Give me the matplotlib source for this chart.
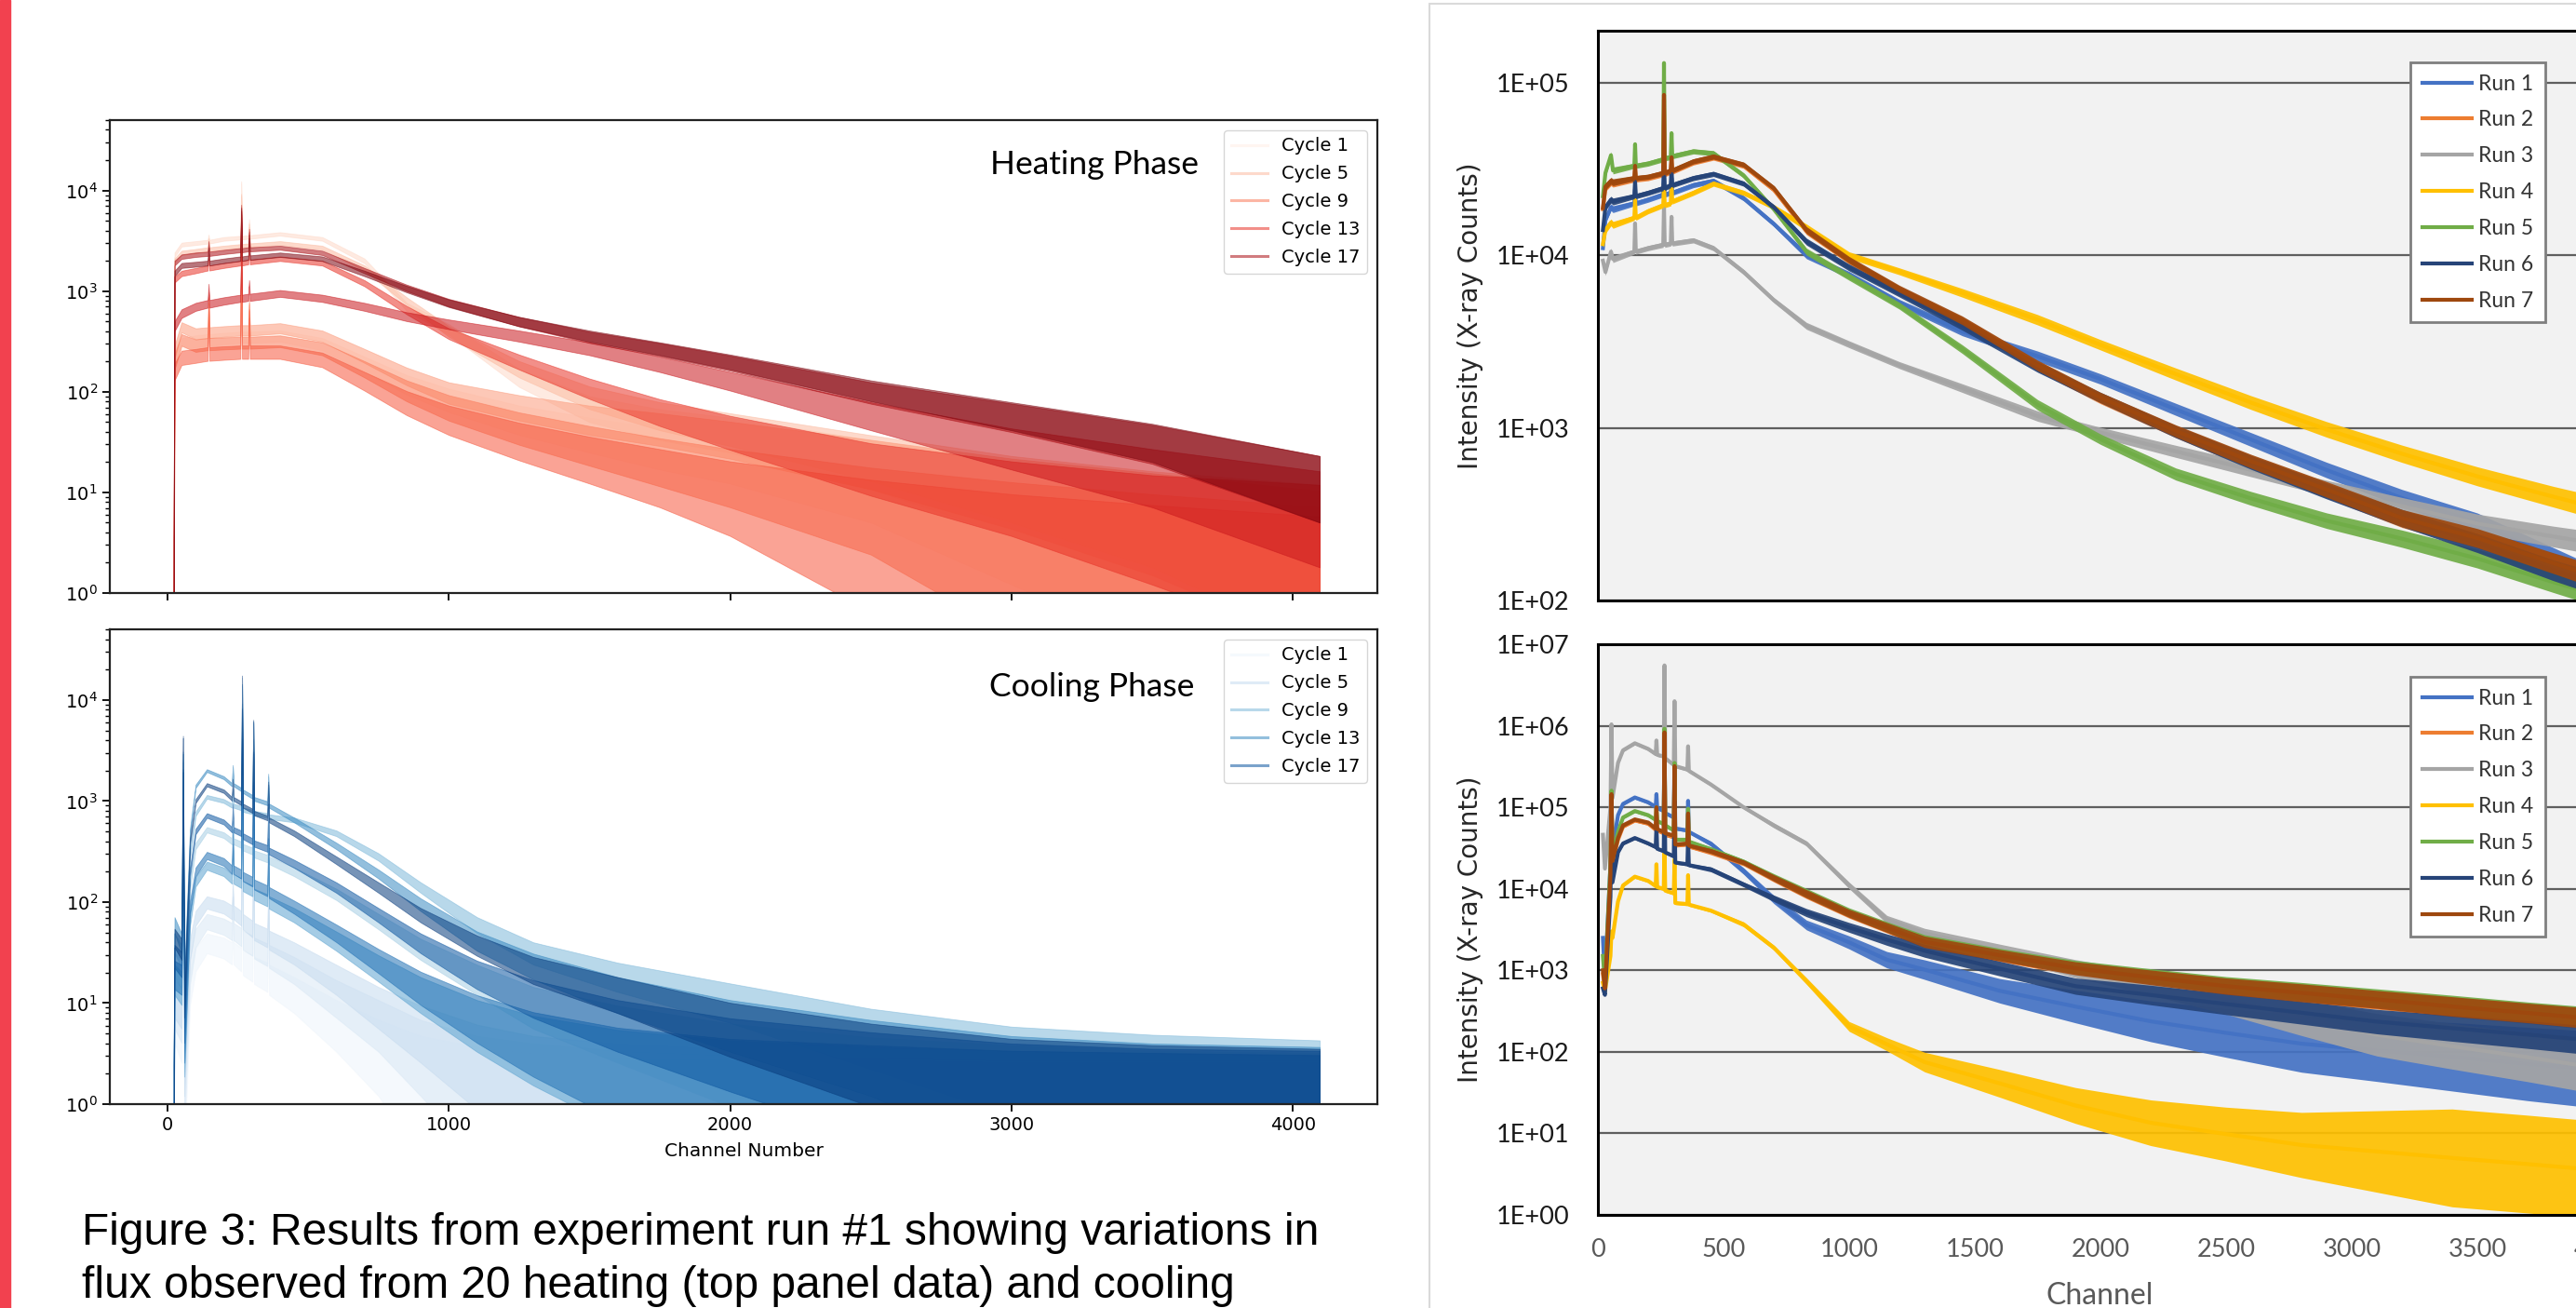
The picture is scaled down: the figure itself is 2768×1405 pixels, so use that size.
import numpy as np
import matplotlib
matplotlib.use("Agg")
import matplotlib.pyplot as plt
from matplotlib.patches import Rectangle
from matplotlib.lines import Line2D
from matplotlib.ticker import FuncFormatter, NullLocator, FixedLocator

W, H, DPI = 2768, 1405, 100

# ------------------------------------------------------------------ data
# Left, top: heating phase spectra (counts per channel), cycles 1,3,...,19
HEAT_CH = [22, 25, 50, 100, 143, 146, 149, 200, 259, 262, 265, 287, 290, 293,
           400, 550, 700, 850, 1000, 1250, 1500, 1750, 2000, 2500, 3000, 3500, 4095]
HEAT_C01 = [1, 220, 300, 320, 330, 700, 330, 340, 350, 2800, 350, 350, 650, 350,
            360, 300, 190, 120, 85, 55, 40, 30, 24, 14, 8, 5.5, 3.5]
HEAT_C03 = [1, 2300, 2900, 3000, 3100, 3500, 3100, 3300, 3400, 12000, 3400, 3450, 5000, 3450,
            3700, 3300, 2000, 700, 420, 140, 70, 50, 40, 22, 12, 8, 5]
HEAT_C05 = [1, 2000, 2400, 2500, 2600, 3200, 2600, 2700, 2800, 9000, 2800, 2850, 4500, 2850,
            3000, 2700, 1700, 800, 400, 170, 90, 60, 45, 25, 14, 9, 6]
HEAT_C07 = [1, 250, 440, 380, 390, 900, 390, 400, 410, 3500, 410, 410, 800, 410,
            430, 360, 230, 145, 100, 72, 55, 45, 36, 22, 13, 8.5, 5]
HEAT_C09 = [1, 200, 330, 290, 300, 800, 300, 305, 310, 3000, 310, 310, 700, 310,
            320, 270, 170, 105, 72, 46, 32, 23, 17, 10, 6.5, 4.5, 3]
HEAT_C11 = [1, 160, 220, 230, 240, 700, 240, 245, 250, 2500, 250, 250, 600, 250,
            250, 210, 130, 80, 55, 35, 24, 17, 12, 7, 4.5, 3.2, 2.2]
HEAT_C13 = [1, 1300, 1500, 1600, 1700, 2300, 1700, 1800, 1900, 6000, 1900, 1950, 3000, 1950,
            2100, 1900, 1200, 650, 380, 200, 110, 65, 42, 20, 12, 8, 6]
HEAT_C15 = [1, 450, 600, 700, 750, 1100, 750, 800, 850, 2500, 850, 870, 1200, 870,
            950, 850, 700, 560, 470, 360, 270, 190, 130, 60, 30, 17, 9]
HEAT_C17 = [1, 1900, 2200, 2300, 2350, 3000, 2350, 2450, 2550, 7000, 2550, 2600, 4000, 2600,
            2700, 2400, 1600, 1080, 770, 500, 350, 265, 195, 100, 58, 33, 14]
HEAT_C19 = [1, 1500, 1800, 1850, 1900, 2600, 1900, 2000, 2100, 6500, 2100, 2150, 3500, 2150,
            2300, 2100, 1500, 1050, 760, 500, 360, 270, 200, 105, 60, 34, 14]

# Left, bottom: cooling phase spectra
COOL_CH = [22, 25, 50, 55, 60, 80, 100, 140, 200, 229, 232, 235, 262, 265, 268, 302, 305, 308,
           355, 358, 361, 450, 600, 750, 900, 1100, 1300, 1600, 2000, 2500, 3000, 3500, 4095]
COOL_C01 = [1, 8, 6, 150, 2.5, 15, 28, 40, 36, 32, 60, 32, 28, 500, 26, 23, 150, 22,
            19, 60, 18, 13, 7, 4, 2.5, 1.8, 1.5, 1.3, 1.2, 1.2, 1.1, 1.1, 1.1]
COOL_C03 = [1, 10, 8, 300, 3, 22, 45, 65, 58, 52, 100, 52, 46, 900, 43, 38, 300, 36,
            31, 100, 30, 22, 12, 7, 4, 2.5, 2, 1.6, 1.4, 1.3, 1.2, 1.2, 1.2]
COOL_C05 = [1, 12, 10, 400, 4, 35, 70, 100, 90, 80, 150, 80, 70, 1500, 65, 55, 500, 52,
            45, 150, 43, 32, 18, 10, 6, 3.5, 2.5, 2, 1.7, 1.5, 1.4, 1.3, 1.3]
COOL_C07 = [1, 25, 20, 1500, 7, 150, 360, 520, 460, 400, 600, 400, 370, 5000, 350, 320, 2000, 300,
            270, 600, 260, 200, 120, 65, 35, 18, 10, 6, 3.6, 2.4, 1.9, 1.6, 1.5]
COOL_C09 = [1, 40, 30, 2500, 10, 300, 750, 1100, 1000, 900, 1300, 900, 850, 9000, 820, 780, 4000, 760,
            720, 1300, 700, 650, 480, 280, 140, 60, 32, 19, 11, 5.5, 3.3, 2.6, 2.2]
COOL_C11 = [1, 18, 15, 800, 5, 70, 160, 230, 200, 170, 350, 170, 155, 3000, 145, 130, 1200, 120,
            105, 300, 100, 75, 42, 23, 13, 7, 4.5, 3, 2.2, 1.8, 1.6, 1.5, 1.4]
COOL_C13 = [1, 60, 40, 3000, 15, 500, 1400, 2000, 1700, 1450, 2200, 1450, 1300, 14000, 1250, 1100, 6000, 1050,
            950, 1800, 900, 650, 360, 190, 95, 42, 24, 13, 7, 4, 2.5, 2.0, 1.8]
COOL_C15 = [1, 20, 18, 1000, 6, 90, 200, 290, 250, 210, 500, 210, 190, 4000, 180, 160, 1500, 150,
            130, 400, 125, 90, 50, 27, 15, 8, 5, 3.2, 2.3, 1.9, 1.6, 1.5, 1.4]
COOL_C17 = [1, 30, 25, 2000, 8, 200, 500, 720, 620, 520, 900, 520, 480, 8000, 450, 400, 3000, 380,
            340, 900, 320, 240, 140, 75, 40, 20, 12, 7, 4.2, 2.8, 2.0, 1.7, 1.6]
COOL_C19 = [1, 45, 35, 4300, 12, 400, 1000, 1450, 1250, 1050, 1600, 1050, 950, 17000, 900, 800, 6200, 760,
            680, 1500, 650, 480, 260, 140, 75, 38, 22, 13, 6.5, 3.6, 2.3, 1.9, 1.7]

CYCLES = [1, 3, 5, 7, 9, 11, 13, 15, 17, 19]
LEGEND_CYCLES = [1, 5, 9, 13, 17]
HEAT_NOISE_K = 2.4      # counting-noise envelope width (in sigma)
COOL_NOISE_K = 1.4

# Right, top: Excel chart, 7 runs
RUN_LABELS = ["Run 1", "Run 2", "Run 3", "Run 4", "Run 5", "Run 6", "Run 7"]
RT_CH = [20, 30, 52, 60, 145, 148, 151, 200, 260, 263, 266, 290, 293, 296, 380, 460, 580, 700,
         830, 1000, 1200, 1450, 1750, 2000, 2300, 2600, 2900, 3200, 3500, 3800, 4095]
RT_RUN1 = [11000, 16000, 19000, 18500, 20000, 24000, 20000, 21000, 22500, 30000, 22500, 23000, 28000, 23000,
           25500, 27000, 21400, 15200, 10000, 7700, 5300, 3620, 2600, 1920, 1280, 855, 570, 392, 283, 177, 110]
RT_RUN2 = [18500, 24500, 26500, 26000, 27500, 32000, 27500, 28000, 29500, 80000, 29500, 30500, 36000, 30500,
           34500, 36800, 33000, 24000, 13800, 9300, 6300, 4150, 2280, 1480, 950, 630, 435, 297, 228, 163, 118]
RT_RUN3 = [9300, 8000, 10500, 9500, 10500, 15300, 10500, 11000, 11500, 19600, 11500, 11700, 16700, 11700,
           12200, 11000, 8000, 5500, 3900, 3050, 2310, 1700, 1170, 940, 731, 571, 448, 352, 279, 235, 200]
RT_RUN4 = [11600, 14000, 15500, 15000, 16500, 21000, 16500, 18000, 19500, 26000, 19500, 20000, 26000, 20500,
           23000, 26000, 23000, 19000, 14500, 10000, 8070, 6060, 4230, 3030, 2050, 1400, 980, 708, 524, 400, 310]
RT_RUN5 = [22000, 30000, 38000, 31000, 33000, 44000, 33000, 34000, 36000, 130000, 36500, 37000, 51000, 37500,
           40000, 39000, 29000, 18500, 10500, 7500, 5100, 2860, 1360, 860, 540, 390, 290, 228, 175, 128, 96]
RT_RUN6 = [14000, 19000, 21000, 20500, 22000, 27000, 22000, 23000, 24500, 33000, 24500, 25500, 32000, 25500,
           28000, 29600, 26000, 19000, 12000, 8500, 6000, 3900, 2250, 1500, 950, 630, 430, 300, 215, 150, 110]
RT_RUN7 = [18800, 25000, 27000, 26500, 28000, 33000, 28000, 28500, 30000, 85000, 30000, 31000, 37000, 31000,
           35000, 37300, 33500, 24500, 14000, 9400, 6400, 4200, 2300, 1500, 960, 640, 440, 300, 230, 165, 120]
RT_SPREAD = [0.02, 0.02, 0.02, 0.02, 0.015, 0.015, 0.015, 0.015, 0.015, 0.015, 0.015, 0.015, 0.015, 0.015,
             0.015, 0.015, 0.015, 0.015, 0.02, 0.02, 0.02, 0.025, 0.03, 0.03, 0.035, 0.04, 0.045, 0.05,
             0.055, 0.06, 0.07]

# Right, bottom: Excel chart, 7 runs
RB_CH = [20, 28, 50, 54, 58, 80, 100, 147, 200, 230, 233, 236, 262, 265, 268, 302, 305, 308, 356, 359, 362,
         450, 580, 700, 830, 1000, 1150, 1300, 1600, 1900, 2200, 2500, 2800, 3100, 3400, 3700, 4095]
RB_RUN1 = [2500, 800, 20000, 140000, 30000, 80000, 110000, 132000, 115000, 101000, 145000, 98000, 90000,
           600000, 85000, 75000, 420000, 55000, 52000, 120000, 50000,
           35700, 16500, 7400, 3600, 2200, 1350, 1020, 560, 360, 237, 171, 126, 104, 87, 71, 56]
RB_RUN2 = [900, 580, 14000, 135000, 21000, 40000, 58000, 69000, 63000, 53000, 95000, 52000, 48000,
           780000, 46000, 43000, 300000, 34000, 35000, 80000, 33000,
           28000, 20500, 13300, 8500, 4900, 3300, 2200, 1500, 1040, 800, 630, 520, 430, 355, 295, 230]
RB_RUN3 = [46000, 17700, 100000, 1040000, 130000, 350000, 500000, 610000, 520000, 450000, 660000, 440000, 420000,
           5500000, 400000, 330000, 2000000, 320000, 290000, 560000, 280000,
           190000, 100000, 60000, 36000, 11000, 4200, 2850, 1740, 1050, 685, 440, 263, 162, 117, 86, 56]
RB_RUN4 = [700, 550, 1500, 3000, 2500, 7000, 11000, 14100, 12500, 10800, 20000, 10500, 10000,
           35500, 9500, 8800, 23000, 6700, 6500, 14700, 6400,
           5400, 3660, 1900, 740, 205, 124, 75, 41, 22, 13.5, 9.8, 7.2, 6.0, 5.0, 4.2, 3.3]
RB_RUN5 = [1500, 700, 20000, 160000, 25000, 50000, 75000, 90000, 80000, 70000, 100000, 68000, 62000,
           920000, 60000, 52000, 350000, 40000, 40000, 96000, 38000,
           30500, 21500, 14000, 9000, 5200, 3450, 2330, 1580, 1100, 850, 665, 550, 460, 375, 310, 242]
RB_RUN6 = [600, 500, 8000, 60000, 12000, 28000, 36000, 42000, 36000, 32500, 59000, 31000, 29000,
           245000, 28000, 25000, 120000, 21000, 20000, 42000, 19500,
           17300, 11300, 7640, 5100, 3360, 2380, 1740, 1050, 640, 498, 386, 302, 235, 195, 163, 126]
RB_RUN7 = [1000, 600, 15000, 145000, 22000, 42000, 60000, 71000, 65000, 55000, 100000, 54000, 50000,
           830000, 48000, 45000, 320000, 35000, 36000, 84000, 34000,
           29000, 21000, 13600, 8700, 5000, 3350, 2240, 1530, 1060, 820, 640, 530, 440, 360, 300, 235]
RB_SPREAD1 = [0.02] * 21 + [0.03, 0.04, 0.05, 0.06, 0.08, 0.10, 0.12, 0.15, 0.20, 0.25, 0.30, 0.35, 0.38, 0.42, 0.45, 0.48]
RB_SPREAD2 = [0.02] * 21 + [0.03, 0.03, 0.04, 0.05, 0.05, 0.06, 0.07, 0.07, 0.08, 0.09, 0.10, 0.11, 0.11, 0.12, 0.12, 0.13]
RB_SPREAD3 = [0.02] * 21 + [0.02, 0.02, 0.03, 0.03, 0.04, 0.05, 0.06, 0.08, 0.11, 0.14, 0.18, 0.22, 0.26, 0.28, 0.30, 0.33]
RB_SPREAD4 = [0.02] * 21 + [0.02, 0.03, 0.03, 0.04, 0.06, 0.08, 0.12, 0.17, 0.22, 0.28, 0.33, 0.40, 0.50, 0.60, 0.60, 0.60]
RB_SPREAD5 = [0.02] * 21 + [0.03, 0.03, 0.04, 0.05, 0.05, 0.06, 0.07, 0.07, 0.08, 0.09, 0.10, 0.11, 0.11, 0.12, 0.12, 0.13]
RB_SPREAD6 = [0.02] * 21 + [0.03, 0.03, 0.04, 0.05, 0.06, 0.07, 0.08, 0.09, 0.10, 0.12, 0.13, 0.14, 0.15, 0.16, 0.17, 0.18]
RB_SPREAD7 = [0.02] * 21 + [0.03, 0.03, 0.04, 0.05, 0.05, 0.06, 0.07, 0.07, 0.08, 0.09, 0.10, 0.11, 0.11, 0.12, 0.12, 0.13]

EXCEL_COLORS = ["#4472C4", "#ED7D31", "#A5A5A5", "#FFC000", "#70AD47", "#264478", "#9E480E"]

CAPTION_1 = "Figure 3: Results from experiment run #1 showing variations in"
CAPTION_2 = "flux observed from 20 heating (top panel data) and cooling"

# ------------------------------------------------------------------ helpers
def fx(px):
    return px / W


def fy(py):
    return 1 - py / H


def left_panel(ax, ch, series, cmap, k, title, title_x, title_y):
    ch = np.asarray(ch, float)
    proxies = {}
    min_half = 10 ** 0.011
    for cyc, vals in zip(CYCLES, series):
        v = np.asarray(vals, float)
        col = cmap(cyc / 20.0)
        err = k * np.sqrt(v)
        lo = np.minimum(v - err, v / min_half)
        hi = np.maximum(v + err, v * min_half)
        ax.fill_between(ch, np.clip(lo, 0.3, None), hi, color=col, alpha=0.55, lw=0.6,
                        edgecolor=col)
        proxies[cyc] = Line2D([], [], color=col, alpha=0.55, lw=2.2)
    ax.set_yscale("log")
    ax.set_ylim(1, 5e4)
    ax.set_xlim(-205, 4300)
    ax.set_xticks([0, 1000, 2000, 3000, 4000])
    ax.tick_params(axis="both", which="major", labelsize=14, length=6, width=1.3)
    ax.tick_params(axis="y", which="minor", length=3.5, width=1.0)
    for s in ax.spines.values():
        s.set_linewidth(1.6)
        s.set_color("#222222")
    ax.legend([proxies[c] for c in LEGEND_CYCLES], ["Cycle %d" % c for c in LEGEND_CYCLES],
              loc="upper right", fontsize=14, labelspacing=0.56, borderaxespad=0.55)
    fig.text(fx(title_x), fy(title_y), title, ha="right", va="center", fontsize=25.5, family="Lato")


def excel_panel(ax, ch, runs, spreads, ymin, ymax):
    ax.set_facecolor("#F2F2F2")
    ch = np.asarray(ch, float)
    lines = []
    for vals, sp, col in zip(runs, spreads, EXCEL_COLORS):
        v = np.asarray(vals, float)
        s = np.asarray(sp, float)
        ax.fill_between(ch, v / 10 ** s, v * 10 ** s, color=col, alpha=0.92, lw=0, zorder=2)
        ln, = ax.plot(ch, v, color=col, lw=3.0, zorder=2)
        lines.append(ln)
    ax.set_yscale("log")
    ax.set_ylim(ymin, ymax)
    ax.set_xlim(0, 4000)
    decades = [10.0 ** e for e in range(int(np.log10(ymin)), int(np.floor(np.log10(ymax))) + 1)]
    ax.yaxis.set_major_locator(FixedLocator(decades))
    ax.yaxis.set_minor_locator(NullLocator())
    ax.yaxis.set_major_formatter(FuncFormatter(lambda v, p: "1E+%02d" % int(round(np.log10(v)))))
    ax.grid(axis="y", which="major", color="#5f5f5f", lw=1.6, zorder=1)
    ax.set_axisbelow(True)
    ax.tick_params(which="both", length=0)
    ax.tick_params(axis="y", pad=22, labelsize=19.5, labelcolor="#1a1a1a")
    for lab in ax.get_yticklabels():
        lab.set_family("Lato")
    for s in ax.spines.values():
        s.set_linewidth(2.2)
        s.set_color("black")
        s.set_zorder(3)
    return lines


# ------------------------------------------------------------------ figure
fig = plt.figure(figsize=(W / DPI, H / DPI), dpi=DPI)
fig.patch.set_facecolor("white")

fig.add_artist(Rectangle((0, 0), fx(11), 1, transform=fig.transFigure, color="#F2414F", zorder=0))
fig.add_artist(Rectangle((fx(1536), fy(1420)), fx(1400), (1420 - 4) / H, transform=fig.transFigure,
                         facecolor="white", edgecolor="#dadada", lw=1.5, zorder=0))

# left panels
ax_h = fig.add_axes([fx(118), fy(637), fx(1480 - 118), (637 - 129) / H])
left_panel(ax_h, HEAT_CH,
           [HEAT_C01, HEAT_C03, HEAT_C05, HEAT_C07, HEAT_C09, HEAT_C11, HEAT_C13, HEAT_C15, HEAT_C17, HEAT_C19],
           plt.cm.Reds, HEAT_NOISE_K, "Heating Phase", 1288, 177)
ax_h.tick_params(axis="x", labelbottom=False)

ax_c = fig.add_axes([fx(118), fy(1186), fx(1480 - 118), (1186 - 676) / H])
left_panel(ax_c, COOL_CH,
           [COOL_C01, COOL_C03, COOL_C05, COOL_C07, COOL_C09, COOL_C11, COOL_C13, COOL_C15, COOL_C17, COOL_C19],
           plt.cm.Blues, COOL_NOISE_K, "Cooling Phase", 1283, 738)
fig.text(fx(799), fy(1237), "Channel Number", ha="center", va="center", fontsize=14.5)

# caption
fig.text(fx(88), fy(1337), CAPTION_1, fontsize=34.5, family="Liberation Sans", va="baseline")
fig.text(fx(88), fy(1394), CAPTION_2, fontsize=34.5, family="Liberation Sans", va="baseline")

# right panels (Excel style)
ax_rt = fig.add_axes([fx(1717), fy(645), fx(1080), (645 - 33) / H])
lines_t = excel_panel(ax_rt, RT_CH, [RT_RUN1, RT_RUN2, RT_RUN3, RT_RUN4, RT_RUN5, RT_RUN6, RT_RUN7],
                      [RT_SPREAD] * 7, 100, 2.0e5)
ax_rt.set_xticks([])

ax_rb = fig.add_axes([fx(1717), fy(1305), fx(1080), (1305 - 692) / H])
lines_b = excel_panel(ax_rb, RB_CH, [RB_RUN1, RB_RUN2, RB_RUN3, RB_RUN4, RB_RUN5, RB_RUN6, RB_RUN7],
                      [RB_SPREAD1, RB_SPREAD2, RB_SPREAD3, RB_SPREAD4, RB_SPREAD5, RB_SPREAD6, RB_SPREAD7],
                      1, 1e7)
ax_rb.set_xticks(np.arange(0, 4001, 500))
ax_rb.tick_params(axis="x", pad=18, labelsize=19.5, labelcolor="#595959")
for lab in ax_rb.get_xticklabels():
    lab.set_family("Lato")

for ax, lines, top in ((ax_rt, lines_t, 67), (ax_rb, lines_b, 727)):
    leg = ax.legend(lines, RUN_LABELS, loc="upper left", bbox_to_anchor=(fx(2590), fy(top)),
                    bbox_transform=fig.transFigure, borderaxespad=0, fancybox=False, framealpha=1,
                    edgecolor="#7f7f7f", prop=dict(family="Lato", size=16.5), handlelength=2.35,
                    handletextpad=0.3, labelspacing=0.78, borderpad=0.55)
    leg.get_frame().set_linewidth(2)
    leg.set_zorder(5)
    for t in leg.get_texts():
        t.set_color("#333333")

fig.text(fx(1580), fy(339), "Intensity (X-ray Counts)", rotation=90, ha="center", va="center",
         fontsize=20, color="#262626")
fig.text(fx(1580), fy(998), "Intensity (X-ray Counts)", rotation=90, ha="center", va="center",
         fontsize=20, color="#262626")
fig.text(fx(2256), fy(1401), "Channel", ha="center", va="baseline", fontsize=23, family="Lato",
         color="#595959")

fig.savefig("out.png", dpi=DPI)
